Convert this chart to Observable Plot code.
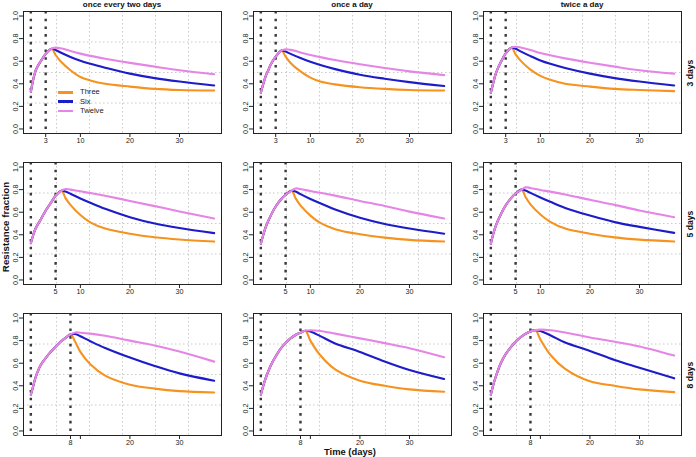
<!DOCTYPE html>
<html><head><meta charset="utf-8">
<script src="https://cdn.jsdelivr.net/npm/d3@7"></script>
<script src="https://cdn.jsdelivr.net/npm/@observablehq/plot@0.6"></script>
<style>
body{margin:0;background:#fff;font-family:"Liberation Sans",Arial,Helvetica,sans-serif;color:#111;}
#chart{position:relative;width:696px;height:457px;overflow:hidden;background:#fff;}
.panel{position:absolute;}
.lab{position:absolute;white-space:nowrap;font-weight:bold;transform:translate(-50%,-50%);line-height:1;}
.rot{transform:translate(-50%,-50%) rotate(-90deg);}
.leg{position:absolute;left:58px;width:15px;height:2.6px;}
.legt{position:absolute;left:80px;font-size:7.6px;line-height:1;transform:translateY(-50%);color:#222;}
</style></head><body>
<div id="chart"></div>
<script>
// ---- chart values ----
const regimens = ["once every two days", "once a day", "twice a day"];
const durations = [3, 5, 8];
const durationLabels = ["3 days", "5 days", "8 days"];
const seriesNames = ["Three", "Six", "Twelve"];
const seriesColors = ["#f6921e", "#1c1cc9", "#e585e5"];
const yTicks = [0, 0.2, 0.4, 0.6, 0.8, 1.0];
const xTicks_3d = [3, 10, 20, 30];
const xTicks_5d = [5, 10, 20, 30];
const xTicks_8d = [8, 10, 20, 30];
const gridX = [5.18, 11.84, 18.5, 25.16, 31.82];
const gridY = [0.23, 0.50, 0.77];

// time points (days), per treatment duration row
const times_3d = [0, 0.5, 1, 1.5, 2, 3, 4.2, 5, 6, 8, 10, 12, 15, 20, 25, 30, 37];
const times_5d = [0, 0.5, 1, 2, 3, 4, 5, 6.2, 7, 8, 10, 12, 15, 20, 25, 30, 37];
const times_8d = [0, 0.5, 1, 2, 3, 4, 5, 6, 7, 8, 9, 10, 12, 15, 20, 25, 30, 37];

// resistance fraction, one array per regimen column (every two days, once a day, twice a day)
const three_3d = [
  [0.33,0.44,0.52,0.565,0.60,0.665,0.71,0.655,0.60,0.52,0.46,0.43,0.40,0.375,0.355,0.345,0.34],
  [0.32,0.40,0.47,0.52,0.57,0.64,0.695,0.64,0.585,0.51,0.455,0.42,0.395,0.37,0.355,0.345,0.34],
  [0.32,0.41,0.49,0.545,0.59,0.67,0.72,0.66,0.605,0.525,0.47,0.435,0.40,0.375,0.355,0.345,0.335]
];
const six_3d = [
  [0.33,0.44,0.52,0.565,0.60,0.665,0.71,0.70,0.677,0.638,0.605,0.578,0.543,0.49,0.45,0.42,0.385],
  [0.32,0.40,0.47,0.52,0.57,0.64,0.695,0.685,0.665,0.628,0.595,0.566,0.53,0.48,0.445,0.415,0.38],
  [0.32,0.41,0.49,0.545,0.59,0.67,0.72,0.71,0.687,0.645,0.607,0.577,0.54,0.49,0.45,0.42,0.385]
];
const twelve_3d = [
  [0.33,0.44,0.52,0.565,0.60,0.665,0.71,0.72,0.715,0.69,0.667,0.647,0.622,0.585,0.552,0.52,0.485],
  [0.32,0.40,0.47,0.52,0.57,0.64,0.695,0.705,0.70,0.678,0.655,0.636,0.61,0.573,0.54,0.51,0.477],
  [0.32,0.41,0.49,0.545,0.59,0.67,0.72,0.728,0.722,0.70,0.672,0.652,0.625,0.587,0.552,0.52,0.49]
];
const three_5d = [
  [0.325,0.40,0.46,0.535,0.615,0.68,0.745,0.79,0.725,0.665,0.575,0.51,0.455,0.41,0.378,0.358,0.34],
  [0.32,0.40,0.47,0.57,0.65,0.71,0.755,0.79,0.725,0.66,0.57,0.505,0.45,0.405,0.375,0.355,0.34],
  [0.32,0.41,0.48,0.58,0.66,0.72,0.765,0.80,0.735,0.67,0.58,0.515,0.455,0.41,0.377,0.357,0.34]
];
const six_5d = [
  [0.325,0.40,0.46,0.535,0.615,0.68,0.745,0.79,0.783,0.763,0.722,0.684,0.63,0.556,0.50,0.46,0.415],
  [0.32,0.40,0.47,0.57,0.65,0.71,0.755,0.79,0.783,0.76,0.717,0.679,0.623,0.55,0.495,0.455,0.41],
  [0.32,0.41,0.48,0.58,0.66,0.72,0.765,0.80,0.793,0.771,0.73,0.692,0.638,0.57,0.512,0.47,0.417]
];
const twelve_5d = [
  [0.325,0.40,0.46,0.535,0.615,0.68,0.745,0.79,0.805,0.80,0.785,0.77,0.745,0.70,0.654,0.607,0.545],
  [0.32,0.40,0.47,0.57,0.65,0.71,0.755,0.79,0.81,0.805,0.787,0.772,0.747,0.70,0.655,0.605,0.545],
  [0.32,0.41,0.48,0.58,0.66,0.72,0.765,0.80,0.82,0.815,0.797,0.782,0.757,0.71,0.665,0.615,0.556]
];
const three_8d = [
  [0.32,0.40,0.48,0.585,0.645,0.70,0.745,0.79,0.825,0.855,0.785,0.70,0.59,0.49,0.41,0.375,0.353,0.34],
  [0.32,0.40,0.47,0.58,0.66,0.73,0.78,0.82,0.85,0.87,0.887,0.80,0.67,0.545,0.445,0.40,0.368,0.347],
  [0.32,0.41,0.48,0.60,0.68,0.74,0.79,0.83,0.86,0.88,0.893,0.81,0.675,0.55,0.44,0.40,0.368,0.344]
];
const six_8d = [
  [0.32,0.40,0.48,0.585,0.645,0.70,0.745,0.79,0.825,0.855,0.858,0.838,0.795,0.735,0.65,0.575,0.51,0.445],
  [0.32,0.40,0.47,0.58,0.66,0.73,0.78,0.82,0.85,0.87,0.887,0.88,0.84,0.775,0.70,0.615,0.54,0.46],
  [0.32,0.41,0.48,0.60,0.68,0.74,0.79,0.83,0.86,0.88,0.893,0.885,0.848,0.783,0.709,0.628,0.56,0.466]
];
const twelve_8d = [
  [0.32,0.40,0.48,0.585,0.645,0.70,0.745,0.79,0.825,0.855,0.872,0.87,0.862,0.843,0.80,0.757,0.703,0.614],
  [0.32,0.40,0.47,0.58,0.66,0.73,0.78,0.82,0.85,0.87,0.887,0.892,0.885,0.862,0.82,0.778,0.733,0.653],
  [0.32,0.41,0.48,0.60,0.68,0.74,0.79,0.83,0.86,0.88,0.893,0.897,0.892,0.872,0.828,0.79,0.748,0.668]
];

// ---- assembly ----
const timesByRow = [times_3d, times_5d, times_8d];
const valuesByRow = [[three_3d, six_3d, twelve_3d], [three_5d, six_5d, twelve_5d], [three_8d, six_8d, twelve_8d]];
const xTicksByRow = [xTicks_3d, xTicks_5d, xTicks_8d];

const chart = document.getElementById("chart");
const FONT = '"Liberation Sans", Arial, Helvetica, sans-serif';

for (let r = 0; r < 3; r++) {
  for (let c = 0; c < 3; c++) {
    const data = [];
    seriesNames.forEach((s, k) => {
      timesByRow[r].forEach((t, i) => data.push({t, v: valuesByRow[r][k][c][i], s}));
    });
    const T = durations[r];
    const svg = Plot.plot({
      width: 226, height: 151,
      marginLeft: 23, marginRight: 5, marginTop: 11, marginBottom: 18,
      style: {fontFamily: FONT, fontSize: "7.2px", color: "#222", background: "transparent", overflow: "visible"},
      x: {domain: [-1.48, 38.48]},
      y: {domain: [-0.04, 1.04]},
      color: {domain: seriesNames, range: seriesColors},
      marks: [
        Plot.ruleX(gridX, {stroke: "#c4c4c4", strokeWidth: 0.9, strokeDasharray: "1.5,2.5"}),
        Plot.ruleY(gridY, {stroke: "#c4c4c4", strokeWidth: 0.9, strokeDasharray: "1.5,2.5"}),
        Plot.ruleX([0, T], {stroke: "#3a3a3a", strokeWidth: 2.4, strokeDasharray: "2.6,5.1"}),
        Plot.line(data, {x: "t", y: "v", z: "s", stroke: "s", strokeWidth: 2.1, curve: "catmull-rom"}),
        Plot.frame({stroke: "#222", strokeWidth: 1}),
        Plot.axisX({ticks: xTicksByRow[r], tickSize: 4, tickPadding: 0, label: null,
          tickFormat: d => (T === 8 && d === 10) ? "" : String(d)}),
        Plot.axisY({ticks: yTicks, tickSize: 4, tickPadding: 2, tickRotate: -90, label: null,
          tickFormat: d3.format(".1f")})
      ]
    });
    const wrap = document.createElement("div");
    wrap.className = "panel";
    wrap.style.left = (230 * c) + "px";
    wrap.style.top = (151 * r) + "px";
    wrap.appendChild(svg);
    chart.appendChild(wrap);
  }
}

function addLabel(text, x, y, size, rotate) {
  const d = document.createElement("div");
  d.className = "lab" + (rotate ? " rot" : "");
  d.style.left = x + "px";
  d.style.top = y + "px";
  d.style.fontSize = size + "px";
  d.textContent = text;
  chart.appendChild(d);
}
regimens.forEach((t, c) => addLabel(t, 122 + 230 * c, 5, 8, false));
durationLabels.forEach((t, r) => addLabel(t, 690, 73 + 151 * r, 8.6, true));
addLabel("Resistance fraction", 6, 227, 9.8, true);
addLabel("Time (days)", 350, 452, 9.4, false);

// legend in the first panel
const legendY = [92.3, 101.7, 111];
seriesNames.forEach((s, k) => {
  const line = document.createElement("div");
  line.className = "leg";
  line.style.top = (legendY[k] - 1.3) + "px";
  line.style.background = seriesColors[k];
  chart.appendChild(line);
  const txt = document.createElement("div");
  txt.className = "legt";
  txt.style.top = legendY[k] + "px";
  txt.textContent = s;
  chart.appendChild(txt);
});
</script>
</body></html>
